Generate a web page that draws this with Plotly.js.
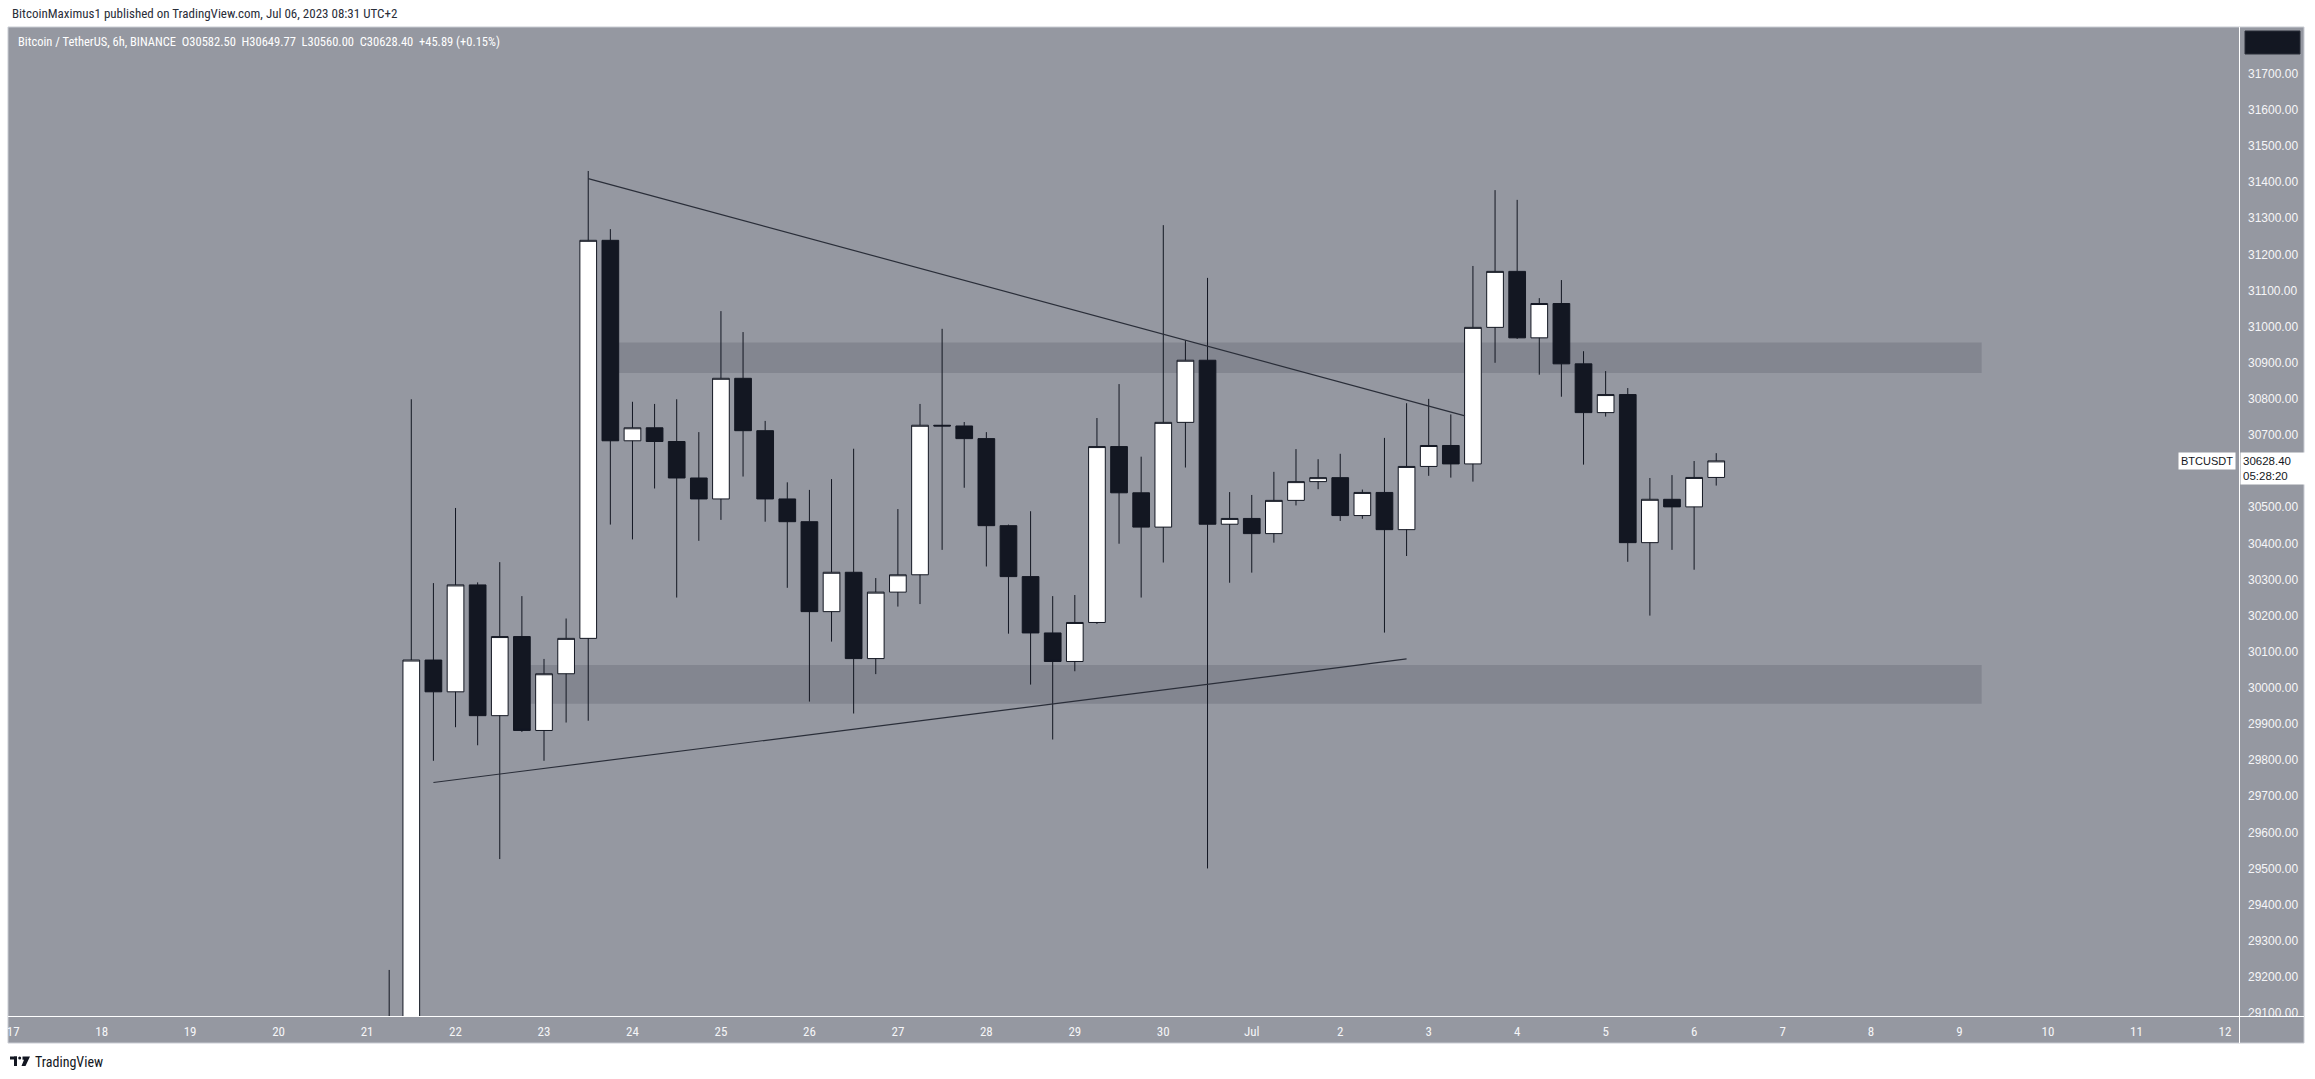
<!DOCTYPE html>
<html><head><meta charset="utf-8">
<script src="https://cdn.plot.ly/plotly-3.0.1.min.js"></script>
<style>html,body{margin:0;padding:0;background:#fff;overflow:hidden}#chart{width:2315px;height:1079px}</style>
</head><body><div id="chart"></div>
<script>
// ---- data (BTCUSDT, 6h, Binance) ----
const times = [
'2023-06-21 06:00','2023-06-21 12:00','2023-06-21 18:00',
'2023-06-22 00:00','2023-06-22 06:00','2023-06-22 12:00','2023-06-22 18:00',
'2023-06-23 00:00','2023-06-23 06:00','2023-06-23 12:00','2023-06-23 18:00',
'2023-06-24 00:00','2023-06-24 06:00','2023-06-24 12:00','2023-06-24 18:00',
'2023-06-25 00:00','2023-06-25 06:00','2023-06-25 12:00','2023-06-25 18:00',
'2023-06-26 00:00','2023-06-26 06:00','2023-06-26 12:00','2023-06-26 18:00',
'2023-06-27 00:00','2023-06-27 06:00','2023-06-27 12:00','2023-06-27 18:00',
'2023-06-28 00:00','2023-06-28 06:00','2023-06-28 12:00','2023-06-28 18:00',
'2023-06-29 00:00','2023-06-29 06:00','2023-06-29 12:00','2023-06-29 18:00',
'2023-06-30 00:00','2023-06-30 06:00','2023-06-30 12:00','2023-06-30 18:00',
'2023-07-01 00:00','2023-07-01 06:00','2023-07-01 12:00','2023-07-01 18:00',
'2023-07-02 00:00','2023-07-02 06:00','2023-07-02 12:00','2023-07-02 18:00',
'2023-07-03 00:00','2023-07-03 06:00','2023-07-03 12:00','2023-07-03 18:00',
'2023-07-04 00:00','2023-07-04 06:00','2023-07-04 12:00','2023-07-04 18:00',
'2023-07-05 00:00','2023-07-05 06:00','2023-07-05 12:00','2023-07-05 18:00',
'2023-07-06 00:00','2023-07-06 06:00'];
const opens = [28700,29000,30077,29989,30285,29923,30142,29882,30039,30137,31239,
30684,30720,30682,30581,30523,30857,30712,30523,30460,30211,30320,30081,
30265,30313,30727,30725,30690,30449,30308,30152,30073,30181,30668,30540,
30445,30735,30907,30453,30469,30427,30519,30571,30582,30477,30541,30438,
30613,30671,30620,30998,31153,30969,31064,30897,30762,30812,30402,30522,
30501,30582.5];
const highs = [29219,30799,30290,30498,30292,30348,30254,30080,30192,31431,31270,
30792,30786,30799,30708,31043,30985,30739,30569,30548,30578,30662,30304,
30495,30786,30994,30736,30708,30452,30489,30254,30257,30747,30841,30640,
31281,30962,31135,30542,30534,30598,30661,30633,30648,30549,30692,30788,
30800,30757,31168,31378,31351,31079,31129,30932,30877,30830,30581,30589,
30628,30649.77];
const lows = [28650,28960,29798,29891,29841,29526,29878,29798,29904,29909,30452,
30411,30552,30250,30407,30465,30585,30460,30277,29962,30128,29929,30038,
30225,30232,30382,30554,30336,30150,30009,29857,30046,30177,30399,30250,
30347,30610,29500,30291,30319,30402,30505,30550,30462,30468,30153,30365,
30587,30582,30571,30900,30966,30867,30806,30618,30751,30349,30200,30382,
30327,30560.00];
const closes = [29000,30077,29989,30285,29923,30142,29882,30039,30137,31239,30684,
30720,30682,30581,30523,30857,30712,30523,30460,30211,30320,30081,30265,
30313,30727,30725,30690,30449,30308,30152,30073,30181,30668,30540,30445,
30735,30907,30453,30469,30427,30519,30571,30582,30477,30541,30438,30613,
30671,30620,30998,31153,30969,31064,30897,30762,30812,30402,30522,30501,
30582.5,30628.40];

const tickDates = ['2023-06-17','2023-06-18','2023-06-19','2023-06-20','2023-06-21','2023-06-22',
'2023-06-23','2023-06-24','2023-06-25','2023-06-26','2023-06-27','2023-06-28','2023-06-29',
'2023-06-30','2023-07-01','2023-07-02','2023-07-03','2023-07-04','2023-07-05','2023-07-06',
'2023-07-07','2023-07-08','2023-07-09','2023-07-10','2023-07-11','2023-07-12'];
const tickLabels = ['17','18','19','20','21','22','23','24','25','26','27','28','29','30',
'Jul','2','3','4','5','6','7','8','9','10','11','12'];
// price scale labels (30600 is hidden behind the last-price label in the reference)
const priceTicks = [29100,29200,29300,29400,29500,29600,29700,29800,29900,30000,30100,30200,
30300,30400,30500,30700,30800,30900,31000,31100,31200,31300,31400,31500,31600,31700];

// drawings
const upperLineX = ['2023-06-23 12:00','2023-07-03 09:50'];
const upperLineY = [31410, 30753];
const lowerLineX = ['2023-06-21 18:00','2023-07-02 18:00'];
const lowerLineY = [29738, 30080];
const resistanceZoneY = [30872, 30956];
const supportZoneY = [29956, 30063];
const resistanceZoneX = ['2023-06-23 18:00','2023-07-09 06:00'];
const supportZoneX = ['2023-06-22 18:00','2023-07-09 06:00'];

const lastPrice = 30628.40;
const countdown = '05:28:20';
const headerText = 'BitcoinMaximus1 published on TradingView.com, Jul 06, 2023 08:31 UTC+2';
const symbolText = 'Bitcoin / TetherUS, 6h, BINANCE&nbsp;&nbsp;O30582.50&nbsp;&nbsp;H30649.77&nbsp;&nbsp;L30560.00&nbsp;&nbsp;C30628.40&nbsp;&nbsp;+45.89 (+0.15%)';

// ---- geometry ----
const W = 2315, H = 1079, PL = 9, PR = 2239, PT = 27, PB = 1016;
const fx = x => (x - PL) / (PR - PL);
const fy = y => (PB - y) / (PB - PT);

const BG = '#9598a1', ZONE = '#838690', DARK = '#131722';
const NARROW = '"Liberation Sans Narrow", "Arial Narrow", "Roboto Condensed", "Liberation Sans", sans-serif';

const trace = {
  type: 'candlestick', x: times, open: opens, high: highs, low: lows, close: closes,
  increasing: {fillcolor: '#ffffff', line: {color: DARK, width: 1}},
  decreasing: {fillcolor: DARK, line: {color: DARK, width: 1}},
  whiskerwidth: 0, hoverinfo: 'skip', showlegend: false
};

const shapes = [
  {type:'rect', xref:'paper', yref:'paper', x0: fx(8), x1: fx(2304), y0: fy(27), y1: fy(1043),
   fillcolor: BG, line:{color:'#c9ccd3', width:1}, layer:'below'},
  {type:'rect', xref:'x', yref:'y', x0: resistanceZoneX[0], x1: resistanceZoneX[1], y0: resistanceZoneY[0], y1: resistanceZoneY[1],
   fillcolor: ZONE, line:{width:0}, layer:'below'},
  {type:'rect', xref:'x', yref:'y', x0: supportZoneX[0], x1: supportZoneX[1], y0: supportZoneY[0], y1: supportZoneY[1],
   fillcolor: ZONE, line:{width:0}, layer:'below'},
  {type:'line', xref:'x', yref:'y', x0: upperLineX[0], x1: upperLineX[1], y0: upperLineY[0], y1: upperLineY[1],
   line:{color:'#2a2e39', width:1.2}},
  {type:'line', xref:'x', yref:'y', x0: lowerLineX[0], x1: lowerLineX[1], y0: lowerLineY[0], y1: lowerLineY[1],
   line:{color:'#2a2e39', width:1.2}},
  {type:'line', xref:'paper', yref:'paper', x0: fx(2239.5), x1: fx(2239.5), y0: fy(27), y1: fy(1043), line:{color:'#ffffff', width:1}},
  {type:'line', xref:'paper', yref:'paper', x0: fx(8), x1: fx(2304), y0: fy(1016.5), y1: fy(1016.5), line:{color:'#ffffff', width:1}},
  {type:'rect', xref:'paper', yref:'paper', x0: fx(2245), x1: fx(2300), y0: fy(31), y1: fy(54),
   fillcolor: DARK, line:{color:'#2a2e39', width:1}},
  {type:'rect', xref:'paper', yref:'paper', x0: fx(10), x1: fx(17), y0: fy(1056.5), y1: fy(1059.5), fillcolor:DARK, line:{width:0}},
  {type:'rect', xref:'paper', yref:'paper', x0: fx(14), x1: fx(17), y0: fy(1056.5), y1: fy(1066), fillcolor:DARK, line:{width:0}},
  {type:'circle', xref:'paper', yref:'paper', x0: fx(18.2), x1: fx(21.2), y0: fy(1056.5), y1: fy(1059.5), fillcolor:DARK, line:{width:0}},
  {type:'path', xref:'paper', yref:'paper', fillcolor:DARK, line:{width:0},
   path: `M ${fx(22.5)} ${fy(1056.5)} L ${fx(30)} ${fy(1056.5)} L ${fx(25.5)} ${fy(1066)} L ${fx(21.5)} ${fy(1066)} L ${fx(24)} ${fy(1059.8)} L ${fx(22.5)} ${fy(1059.8)} Z`}
];

const annotations = [
  {xref:'paper', yref:'paper', x: fx(10), y: fy(13), xanchor:'left', yanchor:'middle', showarrow:false,
   text: headerText, font:{family: NARROW, size: 13, color:'#2a2e39'}},
  {xref:'paper', yref:'paper', x: fx(16), y: fy(41), xanchor:'left', yanchor:'middle', showarrow:false,
   text: symbolText, font:{family: NARROW, size: 12.5, color:'#ffffff'}},
  {xref:'paper', yref:'y', x: fx(2236), y: lastPrice, xanchor:'right', yanchor:'middle', showarrow:false,
   text:'BTCUSDT', bgcolor:'#ffffff', borderpad:2, font:{family:'"Liberation Sans", Arial, sans-serif', size:11, color:DARK}},
  {xref:'paper', yref:'y', x: fx(2240), y: lastPrice, xanchor:'left', yanchor:'top', yshift: 9, showarrow:false, align:'left',
   text: lastPrice.toFixed(2) + '<br>' + countdown, bgcolor:'#ffffff', borderpad:2, width: 60,
   font:{family:'"Liberation Sans", Arial, sans-serif', size:11.5, color:DARK}},
  {xref:'paper', yref:'paper', x: fx(33), y: fy(1061.5), xanchor:'left', yanchor:'middle', showarrow:false,
   text:'TradingView', font:{family: NARROW, size: 14, color:DARK}}
];

const layout = {
  width: W, height: H,
  margin: {l: PL, r: W - PR, t: PT, b: H - PB, pad: 0},
  paper_bgcolor: '#ffffff', plot_bgcolor: BG,
  showlegend: false, dragmode: false,
  boxgap: 0.245, boxgroupgap: 0,
  xaxis: {
    type:'date', range:['2023-06-16 22:52','2023-07-12 03:49'],
    rangeslider:{visible:false}, showgrid:false, zeroline:false, showline:false,
    tickmode:'array', tickvals: tickDates, ticktext: tickLabels, ticks:'',
    ticklabelstandoff: 6,
    tickfont:{family: NARROW, size: 13, color:'#f5f6f8'}
  },
  yaxis: {
    side:'right', range:[29091.5, 31829.6], showgrid:false, zeroline:false, showline:false,
    tickmode:'array', tickvals: priceTicks, tickformat:'.2f', ticks:'',
    ticklabelstandoff: 8,
    tickfont:{family:'"Liberation Sans", Arial, sans-serif', size: 12, color:'#f5f6f8'}
  },
  shapes: shapes, annotations: annotations
};

Plotly.newPlot('chart', [trace], layout, {displayModeBar:false, staticPlot:true});
</script></body></html>
